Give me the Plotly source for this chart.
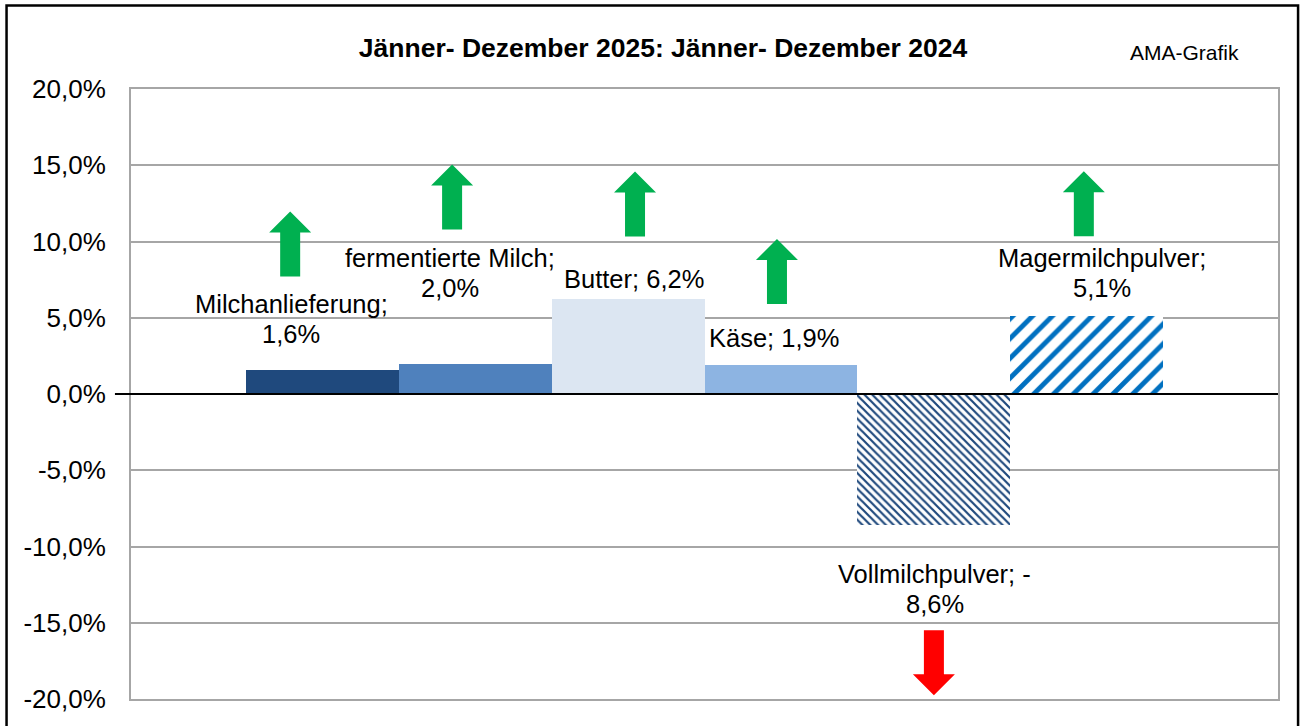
import plotly.graph_objects as go

# ---------------- data ----------------
categories = ["Milchanlieferung", "fermentierte Milch", "Butter", "Käse",
              "Vollmilchpulver", "Magermilchpulver"]
values = [1.6, 2.0, 6.2, 1.9, -8.6, 5.1]          # % change 2025 vs 2024
label_break = [True, True, False, False, "sign", True]  # how Excel wrapped the labels
tick_vals = [-20, -15, -10, -5, 0, 5, 10, 15, 20]
tick_labels = ["-20,0%", "-15,0%", "-10,0%", "-5,0%", "0,0%", "5,0%", "10,0%", "15,0%", "20,0%"]
title_text = "Jänner- Dezember 2025: Jänner- Dezember 2024"
source_text = "AMA-Grafik"

# ---------------- styles ----------------
bar_colors = ["#1F497D", "#4F81BD", "#DCE6F2", "#8DB4E2", "#FFFFFF", "#FFFFFF"]
pat_shapes = ["", "", "", "", "\\", "/"]
pat_fg = ["#1F497D", "#4F81BD", "#DCE6F2", "#8DB4E2", "#1F497D", "#0070C0"]
pat_size = [8, 8, 8, 8, 5.5, 14]
pat_solid = [0.3, 0.3, 0.3, 0.3, 0.4, 0.35]
# label offsets (pixels) from bar end
lab_dx = [-31, -25, 6, -7, 1, 15]
lab_dy = [51, 91, 20, 27, -64, 43]
LINE_H = 30
# arrow offsets (pixels) from bar end
arr_dx = [-32, -23, 7, -4, 0, -3]
arr_dy = [93, 134, 63, 61, -105, 80]

FONT = "Arial, Liberation Sans, sans-serif"


def fmt(v):
    return f"{abs(v):.1f}".replace(".", ",") + "%"


def label_lines(name, v, brk):
    sign = "-" if v < 0 else ""
    if brk == "sign":
        return [f"{name}; {sign}", fmt(v)]
    if brk:
        return [f"{name};", f"{sign}{fmt(v)}"]
    return [f"{name}; {sign}{fmt(v)}"]


fig = go.Figure()
for c, v, col, ps, pf, pz, so in zip(categories, values, bar_colors, pat_shapes,
                                     pat_fg, pat_size, pat_solid):
    fig.add_trace(go.Bar(
        x=[c], y=[v], width=1.0, showlegend=False, hoverinfo="skip",
        marker=dict(color=col, line=dict(width=0),
                    pattern=dict(shape=ps, fgcolor=pf, bgcolor=col, size=pz,
                                 solidity=so, fillmode="replace")),
    ))

annotations = []
for c, v, b, dx, dy in zip(categories, values, label_break, lab_dx, lab_dy):
    lines = label_lines(c, v, b)
    n = len(lines)
    for i, line in enumerate(lines):
        annotations.append(dict(
            x=c, y=v, xref="x", yref="y", text=line, showarrow=False,
            xshift=dx, yshift=dy + (n - 1) / 2 * LINE_H - i * LINE_H,
            xanchor="center", yanchor="middle",
            font=dict(family=FONT, size=25.5, color="black"), align="center",
        ))
annotations.append(dict(
    x=(1184 - 131) / 1147, y=(701 - 52) / 612, xref="paper", yref="paper", text=source_text,
    showarrow=False, xanchor="center", yanchor="middle",
    font=dict(family=FONT, size=21, color="black"),
))

shapes = []
for c, v, dx, dy in zip(categories, values, arr_dx, arr_dy):
    s = 1 if v >= 0 else -1
    hw, sw, hh, L = 21, 10, 21, 65
    pts = [(-sw, 0), (-sw, L - hh), (-hw, L - hh), (0, L), (hw, L - hh), (sw, L - hh), (sw, 0)]
    path = "M " + " L ".join(f"{x + dx},{s * y + dy}" for x, y in pts) + " Z"
    shapes.append(dict(
        type="path", xref="x", yref="y", xsizemode="pixel", ysizemode="pixel",
        xanchor=c, yanchor=v, path=path,
        fillcolor="#00B050" if v >= 0 else "#FF0000", line=dict(width=0), layer="above",
    ))

# zero (category) axis line, with its small tick to the left
shapes.append(dict(type="line", xref="paper", yref="y", x0=-0.014, x1=1.0, y0=0, y1=0,
                   line=dict(color="black", width=2), layer="above"))
# outer chart border
shapes.append(dict(type="rect", xref="paper", yref="paper", x0=-0.1085, x1=1.0175,
                   y0=-0.08, y1=1.137, line=dict(color="black", width=2.5), layer="above"))

fig.update_layout(
    width=1308, height=726,
    margin=dict(l=131, r=30, t=89, b=25),
    paper_bgcolor="white", plot_bgcolor="white",
    barmode="overlay", bargap=0,
    title=dict(text=f"<b>{title_text}</b>", x=663 / 1308, y=1 - 48 / 726,
               xanchor="center", yanchor="middle", xref="container", yref="container",
               font=dict(family=FONT, size=26.5, color="black")),
    xaxis=dict(range=[-1.25, 6.25], categoryorder="array", categoryarray=categories,
               showticklabels=False, showgrid=False, zeroline=False,
               showline=True, mirror=True, linecolor="#A6A6A6", linewidth=2, ticks=""),
    yaxis=dict(range=[-20, 20], tickvals=tick_vals, ticktext=tick_labels,
               showgrid=True, gridcolor="#A6A6A6", gridwidth=2, zeroline=False,
               showline=True, mirror=True, linecolor="#A6A6A6", linewidth=2,
               ticks="", ticklabelstandoff=18,
               tickfont=dict(family=FONT, size=26, color="black")),
    annotations=annotations, shapes=shapes,
)

fig.write_html("out.html", config={"displayModeBar": False},
               post_script="document.body.style.margin='0px';")
